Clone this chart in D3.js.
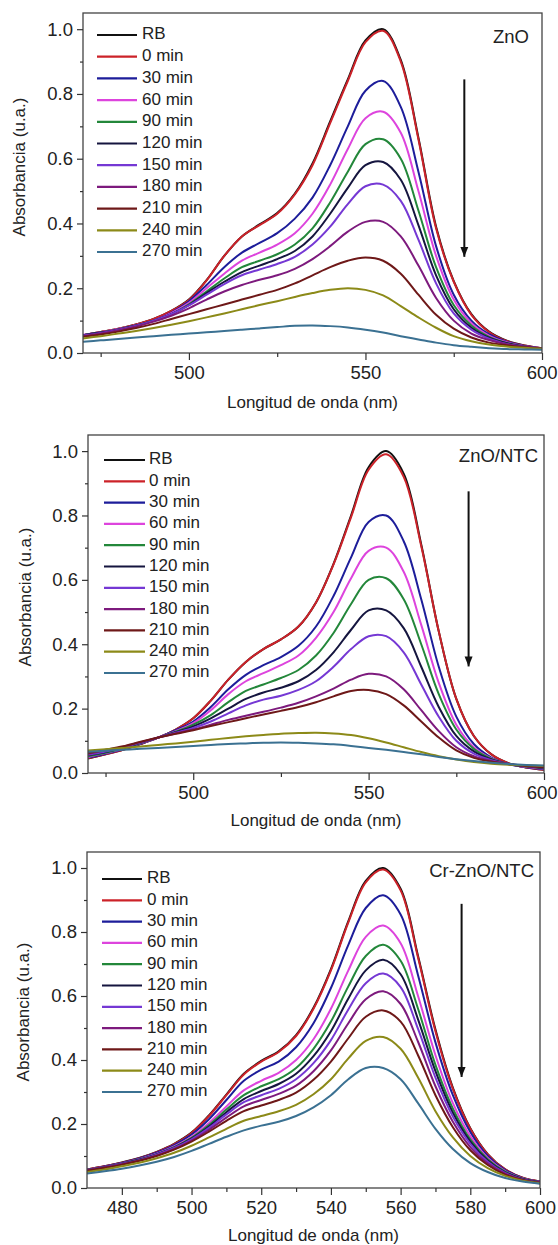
<!DOCTYPE html>
<html>
<head>
<meta charset="utf-8">
<script src="https://cdn.jsdelivr.net/npm/d3@7"></script>
<style>
body { margin: 0; background: #fff; }
svg text { font-family: "Liberation Sans", Arial, sans-serif; fill: #222; }
</style>
</head>
<body>
<svg id="chart" width="558" height="1245"></svg>
<script>
// wavelength grid (nm)
const wavelengths = [470, 475, 480, 485, 490, 495, 500, 505, 510, 515, 520, 525, 530, 535,
                     540, 545, 550, 555, 560, 565, 570, 575, 580, 585, 590, 595, 600];

const seriesNames = ['RB', '0 min', '30 min', '60 min', '90 min', '120 min',
                     '150 min', '180 min', '210 min', '240 min', '270 min'];

const seriesColors = ['#111111', '#cc2229', '#1d1d9a', '#dd44dd', '#23873a', '#15153f',
                      '#7538d4', '#7d1a7d', '#6e1818', '#8c8a18', '#3b7192'];

const panelLabels = ['ZnO', 'ZnO/NTC', 'Cr-ZnO/NTC'];

// arrows: [wavelength, start absorbance, end absorbance]
const arrows = [[578, 0.845, 0.297], [578.5, 0.875, 0.331], [577.5, 0.888, 0.347]];

const yMajor = [0, 0.2, 0.4, 0.6, 0.8, 1.0];
const yMinor = [0.1, 0.3, 0.5, 0.7, 0.9];

// ZnO
const znoSpectra = [
  [.055,.065,.075,.088,.105,.13,.165,.225,.30,.36,.397,.432,.492,.585,.715,.845,.965,1.0,.905,.665,.39,.222,.12,.066,.038,.023,.015],
  [.055,.065,.075,.088,.105,.13,.164,.224,.30,.36,.395,.43,.49,.58,.71,.84,.96,.995,.90,.66,.385,.22,.118,.065,.037,.023,.015],
  [.055,.063,.073,.085,.10,.125,.16,.21,.265,.31,.34,.37,.415,.48,.58,.70,.81,.84,.76,.56,.33,.18,.10,.058,.035,.022,.015],
  [.056,.064,.074,.086,.10,.123,.155,.20,.245,.285,.31,.335,.37,.43,.52,.63,.725,.745,.68,.50,.30,.165,.092,.054,.033,.021,.015],
  [.055,.063,.073,.085,.10,.12,.15,.19,.23,.265,.285,.305,.335,.385,.465,.56,.645,.66,.60,.44,.265,.148,.085,.05,.031,.02,.014],
  [.055,.063,.073,.085,.10,.12,.148,.185,.22,.25,.27,.29,.315,.36,.43,.51,.58,.59,.535,.395,.24,.135,.078,.047,.03,.02,.014],
  [.054,.062,.072,.084,.10,.12,.147,.18,.213,.24,.258,.275,.297,.335,.39,.46,.515,.52,.47,.35,.215,.122,.072,.044,.028,.019,.014],
  [.052,.06,.07,.082,.097,.115,.138,.165,.19,.21,.226,.24,.26,.29,.33,.375,.405,.405,.36,.27,.17,.10,.06,.04,.027,.019,.014],
  [.05,.057,.066,.077,.09,.105,.12,.135,.15,.165,.18,.195,.215,.24,.265,.285,.295,.285,.245,.18,.118,.075,.048,.032,.024,.018,.014],
  [.045,.052,.06,.068,.077,.087,.098,.11,.122,.135,.148,.16,.173,.185,.195,.2,.195,.178,.145,.11,.078,.052,.036,.026,.02,.016,.013],
  [.035,.039,.043,.048,.052,.056,.06,.064,.068,.072,.076,.08,.084,.085,.083,.079,.072,.063,.052,.042,.032,.024,.019,.015,.012,.011,.01]
];

// ZnO/NTC
const znoNtcSpectra = [
  [.045,.058,.072,.09,.11,.135,.17,.225,.29,.345,.385,.415,.455,.53,.65,.80,.95,1.0,.93,.71,.44,.23,.115,.058,.03,.017,.01],
  [.046,.058,.072,.09,.11,.135,.17,.225,.29,.345,.385,.415,.455,.53,.648,.795,.942,.99,.92,.705,.44,.23,.115,.058,.03,.017,.01],
  [.048,.06,.074,.091,.11,.133,.16,.205,.26,.305,.335,.36,.395,.455,.55,.67,.78,.80,.72,.54,.33,.175,.09,.048,.027,.018,.012],
  [.05,.062,.075,.092,.11,.13,.155,.195,.245,.285,.31,.335,.365,.42,.50,.605,.69,.70,.625,.46,.28,.15,.08,.045,.027,.019,.014],
  [.052,.063,.076,.093,.11,.128,.15,.18,.22,.255,.275,.295,.32,.365,.435,.525,.60,.605,.54,.40,.245,.135,.075,.044,.028,.02,.015],
  [.055,.065,.078,.094,.11,.127,.145,.17,.20,.23,.25,.265,.285,.32,.375,.445,.505,.505,.45,.33,.205,.115,.067,.042,.028,.021,.016],
  [.057,.067,.079,.095,.11,.125,.14,.16,.185,.21,.228,.24,.258,.285,.33,.385,.425,.425,.375,.275,.175,.10,.06,.04,.028,.022,.017],
  [.06,.07,.081,.096,.11,.123,.135,.15,.165,.178,.19,.203,.218,.238,.262,.29,.308,.30,.26,.195,.13,.08,.052,.037,.028,.022,.018],
  [.062,.072,.083,.097,.11,.122,.133,.146,.158,.17,.182,.193,.205,.22,.238,.255,.258,.245,.21,.16,.11,.07,.047,.035,.027,.022,.018],
  [.07,.074,.078,.082,.087,.092,.097,.103,.109,.114,.118,.122,.124,.125,.123,.118,.108,.095,.08,.065,.052,.042,.034,.029,.026,.024,.022],
  [.066,.069,.072,.075,.078,.081,.084,.087,.09,.092,.094,.095,.094,.092,.089,.084,.078,.072,.065,.058,.05,.043,.037,.032,.028,.025,.023]
];

// Cr-ZnO/NTC
const crZnoNtcSpectra = [
  [.058,.068,.08,.094,.113,.138,.173,.227,.292,.357,.397,.427,.478,.563,.684,.834,.96,1.0,.935,.725,.495,.313,.187,.106,.058,.032,.02],
  [.058,.068,.079,.093,.112,.137,.172,.225,.29,.355,.395,.425,.475,.56,.68,.83,.955,.995,.93,.72,.49,.31,.185,.105,.058,.032,.02],
  [.057,.067,.078,.092,.11,.134,.167,.215,.275,.335,.37,.395,.44,.515,.625,.76,.875,.915,.855,.665,.455,.29,.175,.10,.056,.031,.02],
  [.057,.066,.077,.09,.107,.13,.16,.203,.255,.305,.335,.36,.40,.465,.56,.68,.785,.82,.765,.60,.415,.265,.162,.094,.053,.03,.019],
  [.056,.065,.076,.089,.106,.128,.157,.197,.245,.29,.318,.34,.375,.435,.52,.63,.725,.76,.71,.56,.385,.248,.152,.09,.051,.029,.018],
  [.056,.065,.076,.088,.105,.126,.154,.192,.237,.278,.303,.325,.357,.412,.49,.592,.68,.713,.668,.527,.365,.235,.145,.086,.049,.028,.018],
  [.055,.064,.075,.087,.104,.125,.152,.188,.23,.268,.29,.31,.34,.39,.462,.558,.64,.67,.628,.497,.345,.223,.138,.082,.047,.027,.017],
  [.055,.064,.074,.086,.102,.122,.148,.182,.22,.255,.275,.294,.32,.365,.43,.515,.59,.615,.575,.457,.318,.207,.128,.077,.045,.026,.017],
  [.054,.063,.073,.085,.10,.12,.145,.176,.21,.24,.258,.275,.298,.338,.395,.468,.535,.555,.52,.415,.29,.19,.118,.072,.042,.025,.016],
  [.05,.058,.068,.079,.093,.11,.132,.158,.185,.21,.225,.24,.26,.293,.34,.405,.46,.472,.435,.345,.24,.158,.10,.062,.038,.023,.015],
  [.045,.052,.06,.07,.082,.097,.116,.138,.16,.18,.195,.207,.225,.252,.29,.34,.375,.375,.34,.265,.185,.122,.078,.05,.031,.02,.013]
];

const svg = d3.select('#chart');
const pageWidth = 558;

svg.append('defs').append('marker')
  .attr('id', 'head')
  .attr('viewBox', '0 0 10 10')
  .attr('refX', 10).attr('refY', 5)
  .attr('markerWidth', 10).attr('markerHeight', 10)
  .attr('markerUnits', 'userSpaceOnUse')
  .attr('orient', 'auto')
  .append('path')
  .attr('d', 'M0,1 L10,5 L0,9 Z')
  .attr('fill', '#111');

// layout of the three panels
const panels = [
  { spectra: znoSpectra, l: 83, r: 542, t: 13, b: 353,
    xMajor: [500, 550, 600], xMinor: [475, 525, 575],
    legend: { x0: 97, x1: 137, tx: 142, y: 35, dy: 21.7 },
    titleX: 21, titleY: 167, xTitleY: 404, labelR: 529, labelY: 38 },
  { spectra: znoNtcSpectra, l: 88, r: 544, t: 435, b: 773,
    xMajor: [500, 550, 600], xMinor: [475, 525, 575],
    legend: { x0: 104, x1: 145, tx: 149, y: 460, dy: 21.3 },
    titleX: 27, titleY: 597, xTitleY: 822, labelR: 538, labelY: 457 },
  { spectra: crZnoNtcSpectra, l: 87, r: 540, t: 852, b: 1188,
    xMajor: [480, 500, 520, 540, 560, 580, 600], xMinor: [490, 510, 530, 550, 570, 590],
    legend: { x0: 102, x1: 142, tx: 147, y: 879, dy: 21.3 },
    titleX: 25, titleY: 1012, xTitleY: 1237, labelR: 534, labelY: 872 }
];

panels.forEach((p, i) => {
  const x = d3.scaleLinear().domain([470, 600]).range([p.l, p.r]);
  const y = d3.scaleLinear().domain([0, 1.05]).range([p.b, p.t]);
  const g = svg.append('g');

  g.append('clipPath').attr('id', 'clip' + i)
    .append('rect')
    .attr('x', p.l).attr('y', p.t)
    .attr('width', p.r - p.l).attr('height', p.b - p.t);

  const line = d3.line()
    .x((d, k) => x(wavelengths[k]))
    .y(d => y(d))
    .curve(d3.curveCatmullRom.alpha(0.5));

  g.append('g').attr('clip-path', `url(#clip${i})`)
    .selectAll('path')
    .data(p.spectra)
    .join('path')
    .attr('d', line)
    .attr('fill', 'none')
    .attr('stroke', (d, k) => seriesColors[k])
    .attr('stroke-width', 2)
    .attr('stroke-linejoin', 'round');

  // frame
  g.append('rect')
    .attr('x', p.l).attr('y', p.t)
    .attr('width', p.r - p.l).attr('height', p.b - p.t)
    .attr('fill', 'none').attr('stroke', '#444').attr('stroke-width', 1.3);

  // axes
  const xAx = g.append('g').attr('transform', `translate(0,${p.b})`)
    .call(d3.axisBottom(x).tickValues(p.xMajor).tickSize(7).tickPadding(4).tickFormat(d3.format('d')));
  g.append('g').attr('transform', `translate(0,${p.b})`)
    .call(d3.axisBottom(x).tickValues(p.xMinor).tickSize(4).tickFormat(''));
  g.append('g').attr('transform', `translate(${p.l},0)`)
    .call(d3.axisLeft(y).tickValues(yMajor).tickSize(6).tickPadding(4).tickFormat(d3.format('.1f')));
  g.append('g').attr('transform', `translate(${p.l},0)`)
    .call(d3.axisLeft(y).tickValues(yMinor).tickSize(3).tickFormat(''));

  g.selectAll('.domain').remove();
  g.selectAll('.tick line').attr('stroke', '#333').attr('stroke-width', 1.2);
  g.selectAll('.tick text').style('font-size', '18.5px').attr('fill', '#222')
    .style('font-family', '"Liberation Sans", Arial, sans-serif');
  xAx.selectAll('.tick text').attr('dy', '0.8em');

  // keep the last tick label inside the page
  xAx.selectAll('.tick').each(function(d) {
    const t = d3.select(this).select('text');
    const over = x(d) + t.node().getComputedTextLength() / 2 - (pageWidth - 1);
    if (over > 0) t.attr('x', -over);
  });

  // axis titles
  g.append('text')
    .attr('transform', `translate(${p.titleX},${p.titleY}) rotate(-90)`)
    .attr('text-anchor', 'middle').attr('dominant-baseline', 'middle')
    .style('font-size', '17px')
    .text('Absorbancia (u.a.)');
  g.append('text')
    .attr('x', (p.l + p.r) / 2).attr('y', p.xTitleY)
    .attr('text-anchor', 'middle').attr('dominant-baseline', 'middle')
    .style('font-size', '17px')
    .text('Longitud de onda (nm)');

  // panel label
  g.append('text')
    .attr('x', p.labelR).attr('y', p.labelY)
    .attr('text-anchor', 'end').attr('dominant-baseline', 'middle')
    .style('font-size', '18.5px')
    .text(panelLabels[i]);

  // legend
  const lg = g.append('g');
  seriesNames.forEach((name, k) => {
    const yy = p.legend.y + k * p.legend.dy;
    lg.append('line')
      .attr('x1', p.legend.x0).attr('x2', p.legend.x1)
      .attr('y1', yy).attr('y2', yy)
      .attr('stroke', seriesColors[k]).attr('stroke-width', 2.2);
    lg.append('text')
      .attr('x', p.legend.tx).attr('y', yy)
      .attr('dominant-baseline', 'middle')
      .style('font-size', '17px')
      .text(name);
  });

  // arrow
  const a = arrows[i];
  g.append('line')
    .attr('x1', x(a[0])).attr('x2', x(a[0]))
    .attr('y1', y(a[1])).attr('y2', y(a[2]))
    .attr('stroke', '#111').attr('stroke-width', 2)
    .attr('marker-end', 'url(#head)');
});
</script>
</body>
</html>
